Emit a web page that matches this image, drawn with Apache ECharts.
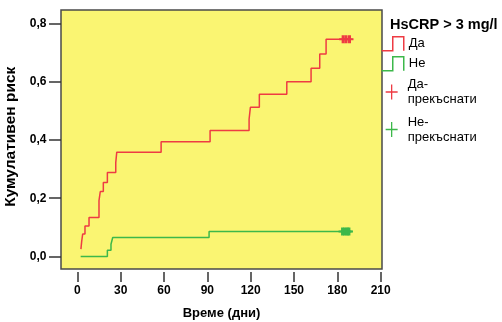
<!DOCTYPE html>
<html>
<head>
<meta charset="utf-8">
<script src="https://cdn.jsdelivr.net/npm/echarts@6/dist/echarts.min.js"></script>
<style>
  html, body { margin: 0; padding: 0; background: #ffffff; }
  #chart { width: 502px; height: 322px; }
</style>
</head>
<body>
<div id="chart"></div>
<script>
// Cumulative risk (Kaplan-Meier) by HsCRP group: [day, cumulative risk]
const riskYes = [
  [2.5, 0.025], [3.0, 0.051], [3.7, 0.077], [5.3, 0.105], [8.1, 0.134],
  [15.0, 0.192], [15.9, 0.223], [18.0, 0.254], [20.8, 0.288], [26.6, 0.322],
  [27.3, 0.358], [58.0, 0.394], [91.9, 0.432], [118.9, 0.471], [119.8, 0.512],
  [126.0, 0.557], [145.0, 0.600], [161.8, 0.646], [167.8, 0.695], [172.2, 0.746],
  [190.5, 0.746]
];
const riskNo = [
  [2.3, 0.0], [20.8, 0.021], [23.3, 0.042], [24.5, 0.065], [91.2, 0.086],
  [190.5, 0.086]
];
// Censored observations
const censoredYes = [[184.0, 0.746], [186.0, 0.746], [188.4, 0.746]];
const censoredNo = [[183.6, 0.086], [185.2, 0.086], [186.8, 0.086], [188.0, 0.086]];

const xTicks = [0, 30, 60, 90, 120, 150, 180, 210];
const yTicks = [0, 0.2, 0.4, 0.6, 0.8];

const legendTitle = 'HsCRP > 3 mg/l';
const nameYes = 'Да';
const nameNo = 'Не';
const nameCensYes = 'Да-\nпрекъснати';
const nameCensNo = 'Не-\nпрекъснати';

const RED = '#ee3b43';
const GREEN = '#3cb84a';
const FONT = 'Liberation Sans, Arial, sans-serif';

const stepIcon = 'path://M0,14H11V0H22V14';
const plusIcon = 'path://M0,0M21,15M4,7.5H16M10,0V15';
const plusMark = 'path://M2.5,0H5.5V3H8V5H5.5V8H2.5V5H0V3H2.5Z';

const chart = echarts.init(document.getElementById('chart'), null, { renderer: 'canvas' });

chart.setOption({
  animation: false,
  backgroundColor: '#ffffff',
  textStyle: { fontFamily: FONT },
  title: {
    text: legendTitle,
    left: 390, top: 17, padding: 0,
    textStyle: { fontFamily: FONT, fontSize: 14.5, fontWeight: 'bold', color: '#000' }
  },
  legend: [
    {
      orient: 'vertical', left: 381, top: 36, padding: 0,
      itemWidth: 22, itemHeight: 14, itemGap: 4.5,
      textStyle: { fontFamily: FONT, fontSize: 13, color: '#000', lineHeight: 15 },
      data: [
        { name: nameYes, icon: stepIcon, itemStyle: { color: 'transparent', borderColor: RED, borderWidth: 1.5 } },
        { name: nameNo, icon: stepIcon, itemStyle: { color: 'transparent', borderColor: GREEN, borderWidth: 1.5 } }
      ]
    },
    {
      orient: 'vertical', left: 381, top: 77, padding: 0,
      itemWidth: 21, itemHeight: 15, itemGap: 7.5,
      textStyle: { fontFamily: FONT, fontSize: 13, color: '#000', lineHeight: 15 },
      data: [
        { name: nameCensYes, icon: plusIcon, itemStyle: { color: 'transparent', borderColor: RED, borderWidth: 1.3 } },
        { name: nameCensNo, icon: plusIcon, itemStyle: { color: 'transparent', borderColor: GREEN, borderWidth: 1.3 } }
      ]
    }
  ],
  grid: {
    left: 61, top: 10, width: 321, height: 259,
    outerBoundsMode: 'none', containLabel: false,
    show: true, backgroundColor: '#faf572', borderColor: '#4a4a4a', borderWidth: 1.5
  },
  xAxis: {
    type: 'value', min: -11.3, max: 210.9, offset: 3,
    name: 'Време (дни)', nameLocation: 'middle', nameGap: 35,
    nameTextStyle: { fontFamily: FONT, fontSize: 13, fontWeight: 'bold', color: '#000' },
    splitLine: { show: false },
    axisLine: { show: false, onZero: false },
    axisTick: { show: true, length: 10, customValues: xTicks, lineStyle: { color: '#333', width: 1.5 } },
    axisLabel: { customValues: xTicks, margin: 13, fontFamily: FONT, fontSize: 12, fontWeight: 'bold', color: '#000' }
  },
  yAxis: {
    type: 'value', min: -0.043, max: 0.846,
    name: 'Кумулативен риск', nameLocation: 'middle', nameGap: 36, nameRotate: 90,
    nameTextStyle: { fontFamily: FONT, fontSize: 15.5, fontWeight: 'bold', color: '#000', padding: [0, 0, 0, 5.5] },
    splitLine: { show: false },
    axisLine: { show: false, onZero: false },
    axisTick: { show: true, length: 12, customValues: yTicks, lineStyle: { color: '#333', width: 1.5 } },
    axisLabel: {
      customValues: yTicks, margin: 14.5, fontFamily: FONT, fontSize: 12, fontWeight: 'bold', color: '#000',
      formatter: v => v.toFixed(1).replace('.', ',')
    }
  },
  series: [
    {
      name: nameYes, type: 'line', step: 'end', data: riskYes,
      showSymbol: false, symbol: 'none', lineStyle: { color: RED, width: 1.5 }, itemStyle: { color: RED }, z: 3
    },
    {
      name: nameNo, type: 'line', step: 'end', data: riskNo,
      showSymbol: false, symbol: 'none', lineStyle: { color: GREEN, width: 1.5 }, itemStyle: { color: GREEN }, z: 3
    },
    {
      name: nameCensYes, type: 'scatter', data: censoredYes,
      symbol: plusMark, symbolSize: [8, 8], itemStyle: { color: RED, opacity: 1 }, z: 4
    },
    {
      name: nameCensNo, type: 'scatter', data: censoredNo,
      symbol: plusMark, symbolSize: [8, 8], itemStyle: { color: GREEN, opacity: 1 }, z: 4
    }
  ]
});
</script>
</body>
</html>
